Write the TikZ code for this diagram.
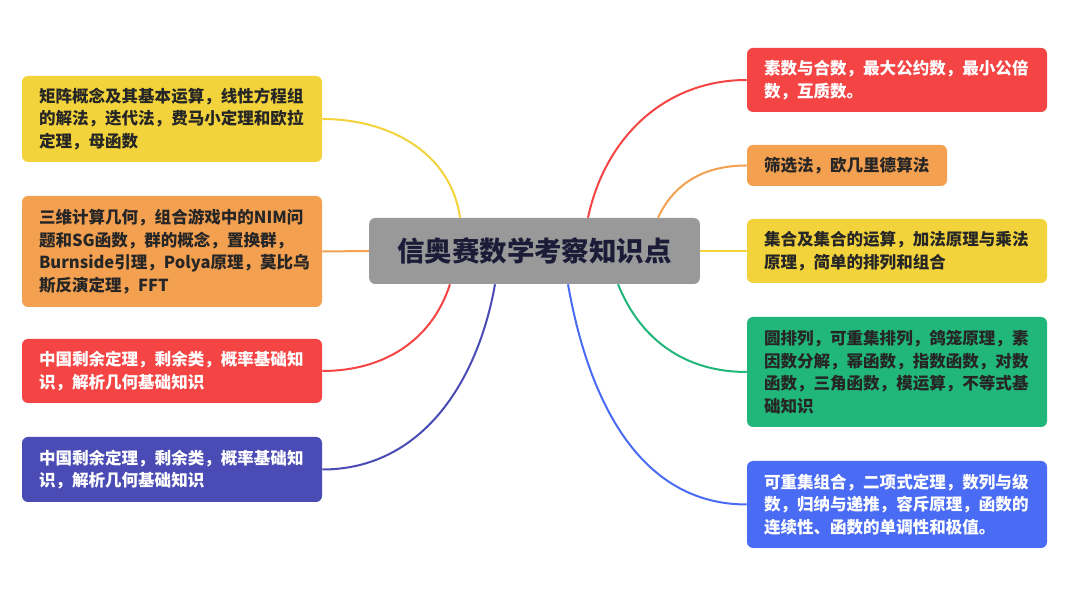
\documentclass[tikz,border=0pt]{standalone}
\usepackage{fontspec}
\setmainfont{Noto Sans CJK SC}
\usepackage{xcolor}
\definecolor{mmyellow}{HTML}{F2D33C}
\definecolor{mmorange}{HTML}{F3A050}
\definecolor{mmred}{HTML}{F44444}
\definecolor{mmpurple}{HTML}{4B4BB5}
\definecolor{mmgreen}{HTML}{21B67A}
\definecolor{mmblue}{HTML}{4A6CF5}
\definecolor{mmgray}{HTML}{999999}
\definecolor{mmink}{HTML}{1C1C38}

\begin{document}
\begin{tikzpicture}[x=0.75pt,y=0.75pt,
	box/.style={rectangle,rounded corners=4.5pt,minimum width=225pt,text width=199.5pt,align=left,inner xsep=12.75pt,inner ysep=0pt,font=\fontsize{12.4}{16.9}\selectfont\bfseries},
	link/.style={line width=1.5pt}]
			\useasboundingbox[fill=white] (0,0) rectangle (1080,591);
			% centre
			\node[rectangle,rounded corners=4.5pt,fill=mmgray,minimum width=248pt,minimum height=49.5pt,font=\fontsize{20.6}{24}\selectfont\bfseries,text=mmink] (c) at (534.5,340){信奥赛数学考察知识点};
			% left side
			\node[box,fill=mmyellow,text=black!85,minimum height=64.5pt] (l1) at (172,472){矩阵概念及其基本运算，线性方程组\\的解法，迭代法，费马小定理和欧拉\\定理，母函数};
			\node[box,fill=mmorange,text=black!85,minimum height=83.25pt] (l2) at (172,339.5){三维计算几何，组合游戏中的NIM问\\题和SG函数，群的概念，置换群，\\Burnside引理，Polya原理，莫比乌\\斯反演定理，FFT};
			\node[box,fill=mmred,text=white,minimum height=48pt] (l3) at (172,220){中国剩余定理，剩余类，概率基础知\\识，解析几何基础知识};
			\node[box,fill=mmpurple,text=white,minimum height=48.75pt] (l4) at (172,121.5){中国剩余定理，剩余类，概率基础知\\识，解析几何基础知识};
			% right side
			\node[box,fill=mmred,text=white,minimum height=48pt] (r1) at (897,511){素数与合数，最大公约数，最小公倍\\数，互质数。};
			\node[box,fill=mmorange,text=black!85,minimum width=150pt,text width=124.5pt,minimum height=30.75pt] (r2) at (847,425.5){筛选法，欧几里德算法};
			\node[box,fill=mmyellow,text=black!85,minimum height=48pt] (r3) at (897,340){集合及集合的运算，加法原理与乘法\\原理，简单的排列和组合};
			\node[box,fill=mmgreen,text=black!85,minimum height=82.5pt] (r4) at (897,219){圆排列，可重集排列，鸽笼原理，素\\因数分解，幂函数，指数函数，对数\\函数，三角函数，模运算，不等式基\\础知识};
			\node[box,fill=mmblue,text=white,minimum height=65.25pt] (r5) at (897,86.5){可重集组合，二项式定理，数列与级\\数，归纳与递推，容斥原理，函数的\\连续性、函数的单调性和极值。};
			% branches
			\draw[link,mmyellow] ([shift={(-74.5,0)}]c.north) to[out=98,in=0] (l1.east);
			\draw[link,mmorange] (c.west) -- (l2.east);
			\draw[link,mmred] ([shift={(-84.5,0)}]c.south) to[out=-108,in=0] (l3.east);
			\draw[link,mmpurple] ([shift={(-39.5,0)}]c.south) to[out=-100,in=0] (l4.east);
			\draw[link,mmred] ([shift={(53.5,0)}]c.north) to[out=78,in=180] (r1.west);
			\draw[link,mmorange] ([shift={(123.5,0)}]c.north) to[out=65,in=180] (r2.west);
			\draw[link,mmyellow] (c.east) -- (r3.west);
			\draw[link,mmgreen] ([shift={(83.5,0)}]c.south) to[out=-68,in=180] (r4.west);
			\draw[link,mmblue] ([shift={(33.5,0)}]c.south) to[out=-80,in=180] (r5.west);
\end{tikzpicture}
\end{document}
